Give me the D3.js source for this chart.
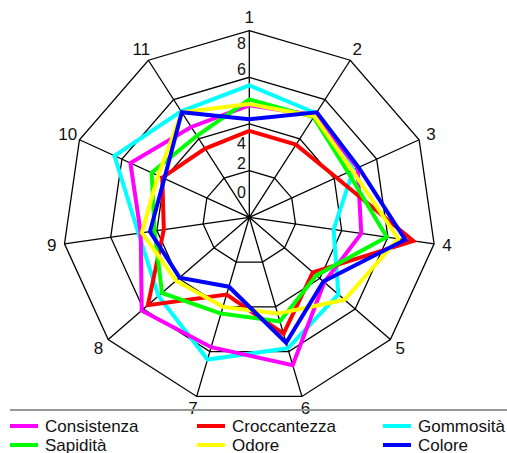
<!DOCTYPE html>
<html>
<head>
<meta charset="utf-8">
<script src="https://cdn.jsdelivr.net/npm/d3@7"></script>
<style>
  body { margin: 0; background: #fff; }
  svg { display: block; font-family: "Liberation Sans", Arial, sans-serif; }
</style>
</head>
<body>
<div class="canvas"></div>
<script>
// axes of the radar (1..11) and ring values
const axes = ['1', '2', '3', '4', '5', '6', '7', '8', '9', '10', '11'];
const ringValues = [2, 4, 6, 8];
const tickLabels = ['0', '2', '4', '6', '8'];

const seriesNames = ['Consistenza', 'Croccantezza', 'Gommosità', 'Sapidità', 'Odore', 'Colore'];
const seriesColors = ['#ff00ff', '#ff0000', '#00ffff', '#00ff00', '#ffff00', '#0000ff'];

// values on axes 1..11
const consistenza  = [4.8, 5.2, 5.1, 4.85, 4.25, 6.6, 5.8, 6.1, 4.7, 5.6, 4.6];
const croccantezza = [3.7, 3.7, 4.1, 7.1, 3.6, 5.2, 3.45, 5.75, 3.7, 4.1, 3.5];
const gommosita    = [5.65, 5.3, 4.9, 3.65, 5.05, 5.85, 6.35, 5.15, 4.8, 6.35, 5.4];
const sapidita     = [5.05, 5.1, 4.65, 5.95, 3.8, 4.65, 4.3, 4.95, 4.1, 4.6, 4.15];
const odore        = [4.85, 5.15, 4.85, 6.45, 5.4, 4.3, 4.0, 4.15, 4.65, 4.3, 5.35];
const colore       = [4.2, 5.35, 5.15, 6.75, 4.2, 5.6, 3.1, 3.95, 4.3, 4.0, 5.35];

const seriesValues = [consistenza, croccantezza, gommosita, sapidita, odore, colore];
// drawing order (last on top)
const drawOrder = [2, 0, 1, 3, 4, 5];

const width = 507, height = 453;
const cx = 249.3, cy = 217.3, R = 186.7;

const svg = d3.select('.canvas').append('svg')
    .attr('width', width)
    .attr('height', height);

const r = d3.scaleLinear().domain([0, 8]).range([0, R]);
const angle = d3.scaleLinear().domain([0, axes.length]).range([0, 2 * Math.PI]);

function pt(i, v) {
    const a = angle(i);
    return [cx + r(v) * Math.sin(a), cy - r(v) * Math.cos(a)];
}

const grid = svg.append('g');

// rings
ringValues.forEach(v => {
    grid.append('path')
        .attr('d', d3.line()(axes.map((d, i) => pt(i, v))) + 'Z')
        .attr('fill', 'none')
        .attr('stroke', '#000')
        .attr('stroke-width', 1.3);
});

// spokes
axes.forEach((d, i) => {
    const p = pt(i, 8);
    grid.append('line')
        .attr('x1', cx).attr('y1', cy)
        .attr('x2', p[0]).attr('y2', p[1])
        .attr('stroke', '#000')
        .attr('stroke-width', 1.3);
});

// axis labels
axes.forEach((d, i) => {
    const a = angle(i);
    svg.append('text')
        .attr('x', cx + (R + 13) * Math.sin(a))
        .attr('y', cy - (R + 13) * Math.cos(a))
        .attr('text-anchor', 'middle')
        .attr('dominant-baseline', 'central')
        .attr('font-size', 17)
        .attr('fill', '#111')
        .text(d);
});

// tick labels along the first spoke (placed like the original)
const tickLabelR = [25, 54, 74, 148, 174];
tickLabels.forEach((t, i) => {
    svg.append('text')
        .attr('x', cx - 3.5)
        .attr('y', cy - tickLabelR[i])
        .attr('text-anchor', 'end')
        .attr('dominant-baseline', 'central')
        .attr('font-size', 16)
        .attr('fill', '#111')
        .text(t);
});

// series polygons
const line = d3.line().curve(d3.curveLinearClosed);
drawOrder.forEach(k => {
    svg.append('path')
        .attr('d', line(seriesValues[k].map((v, i) => pt(i, v))))
        .attr('fill', 'none')
        .attr('stroke', seriesColors[k])
        .attr('stroke-width', 4)
        .attr('stroke-linejoin', 'miter');
});

// center dot
svg.append('circle').attr('cx', cx).attr('cy', cy).attr('r', 2).attr('fill', '#000');

// legend
svg.append('line')
    .attr('x1', 10).attr('x2', width)
    .attr('y1', 410).attr('y2', 410)
    .attr('stroke', '#999')
    .attr('stroke-width', 2);

const colX = [10, 197, 383];
const rowY = [426, 445];
seriesNames.forEach((name, j) => {
    const x = colX[j % 3], y = rowY[Math.floor(j / 3)];
    svg.append('line')
        .attr('x1', x).attr('x2', x + 28)
        .attr('y1', y).attr('y2', y)
        .attr('stroke', seriesColors[j])
        .attr('stroke-width', 4);
    svg.append('text')
        .attr('x', x + 35)
        .attr('y', y)
        .attr('dominant-baseline', 'central')
        .attr('font-size', 17)
        .attr('fill', '#111')
        .text(name);
});
</script>
</body>
</html>
